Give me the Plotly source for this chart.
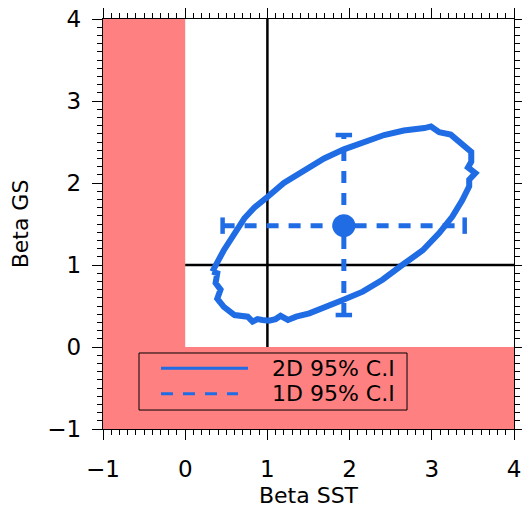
import plotly.graph_objects as go

# ---- data ----
ellipse_x = [0.33, 0.39, 0.37, 0.43, 0.39, 0.47, 0.60, 0.76, 0.82, 0.88, 0.94, 1.02, 1.10, 1.16, 1.25,
             1.35, 1.51, 1.75, 1.91, 2.16, 2.40, 2.64, 2.89, 3.09, 3.25, 3.37, 3.455, 3.455, 3.53, 3.44,
             3.48, 3.48, 3.35, 3.23, 3.09, 2.99, 2.91, 2.77, 2.66, 2.42, 2.18, 1.93, 1.69, 1.45, 1.20,
             1.00, 0.84, 0.72, 0.60, 0.47, 0.33]
ellipse_y = [0.92, 0.90, 0.78, 0.70, 0.59, 0.49, 0.39, 0.37, 0.31, 0.34, 0.33, 0.32, 0.34, 0.38, 0.33,
             0.37, 0.41, 0.50, 0.57, 0.675, 0.82, 1.00, 1.18, 1.39, 1.59, 1.79, 1.96, 2.04, 2.12, 2.19,
             2.26, 2.38, 2.48, 2.59, 2.62, 2.69, 2.67, 2.65, 2.64, 2.585, 2.50, 2.41, 2.30, 2.16, 2.00,
             1.83, 1.70, 1.57, 1.39, 1.18, 0.92]
center_x = 1.93
center_y = 1.48
ci_x = [0.455, 3.40]
ci_y = [0.39, 2.585]
cap_half = 0.1
ref_x = 1.0
ref_y = 1.0
x_range = [-1, 4]
y_range = [-1, 4]
tick_vals = [-1, 0, 1, 2, 3, 4]
legend_labels = ["2D 95% C.I", "1D 95% C.I"]

BLUE = "#1F6CE4"
RED = "#FF8080"
FONT = "DejaVu Sans"

fig = go.Figure()

# ellipse (2D CI)
fig.add_trace(go.Scatter(x=ellipse_x, y=ellipse_y, mode="lines",
                         line=dict(color=BLUE, width=6), showlegend=False,
                         name=legend_labels[0]))
# 1D CI dashed
fig.add_trace(go.Scatter(x=ci_x, y=[center_y, center_y], mode="lines",
                         line=dict(color=BLUE, width=5, dash="12px,10px"), showlegend=False,
                         name=legend_labels[1]))
fig.add_trace(go.Scatter(x=[center_x, center_x], y=ci_y, mode="lines",
                         line=dict(color=BLUE, width=5, dash="12px,10px"), showlegend=False))
# caps
for xv in ci_x:
    fig.add_trace(go.Scatter(x=[xv, xv], y=[center_y - cap_half, center_y + cap_half], mode="lines",
                             line=dict(color=BLUE, width=4.5), showlegend=False))
for yv in ci_y:
    fig.add_trace(go.Scatter(x=[center_x - cap_half, center_x + cap_half], y=[yv, yv], mode="lines",
                             line=dict(color=BLUE, width=4.5), showlegend=False))
# center point
fig.add_trace(go.Scatter(x=[center_x], y=[center_y], mode="markers",
                         marker=dict(color=BLUE, size=23), showlegend=False))

# red shaded regions (negative betas)
fig.add_shape(type="rect", xref="x", yref="y", x0=x_range[0], x1=0, y0=y_range[0], y1=y_range[1],
              fillcolor=RED, line_width=0, layer="below")
fig.add_shape(type="rect", xref="x", yref="y", x0=x_range[0], x1=x_range[1], y0=y_range[0], y1=0,
              fillcolor=RED, line_width=0, layer="below")
# reference lines at 1
fig.add_shape(type="line", xref="x", yref="y", x0=ref_x, x1=ref_x, y0=0, y1=y_range[1],
              line=dict(color="black", width=2.5), layer="below")
fig.add_shape(type="line", xref="x", yref="y", x0=0, x1=x_range[1], y0=ref_y, y1=ref_y,
              line=dict(color="black", width=2.5), layer="below")

# manual legend box
leg_rows = [0.1480, 0.0860]
fig.add_shape(type="rect", xref="paper", yref="paper", x0=0.0876, x1=0.7397, y0=0.0463, y1=0.1854,
              line=dict(color="black", width=1), fillcolor="rgba(0,0,0,0)")
fig.add_shape(type="line", xref="paper", yref="paper", x0=0.1411, x1=0.3528, y0=leg_rows[0], y1=leg_rows[0],
              line=dict(color=BLUE, width=3))
fig.add_shape(type="line", xref="paper", yref="paper", x0=0.1411, x1=0.3285, y0=leg_rows[1], y1=leg_rows[1],
              line=dict(color=BLUE, width=3, dash="12px,10px"))
for lab, yy in zip(legend_labels, leg_rows):
    fig.add_annotation(text=lab, xref="paper", yref="paper", x=0.7153, y=yy, xanchor="right",
                       yanchor="middle", showarrow=False, font=dict(family=FONT, size=22, color="black"))

axis_common = dict(
    tickvals=tick_vals, ticks="outside", ticklen=10, tickwidth=1.3, tickcolor="black",
    showline=True, linecolor="black", linewidth=1.3, mirror="ticks",
    showgrid=False, zeroline=False, automargin=False,
    minor=dict(dtick=0.1, ticks="outside", ticklen=5, tickwidth=1, tickcolor="black", showgrid=False),
    tickfont=dict(family=FONT, size=23, color="black"),
)

fig.update_layout(
    width=522, height=508,
    margin=dict(l=103, r=8, t=19, b=79),
    plot_bgcolor="white", paper_bgcolor="white",
    showlegend=False,
    xaxis=dict(range=x_range, title=dict(text="Beta SST", font=dict(family=FONT, size=22, color="black"),
                                         standoff=6),
               ticklabelstandoff=9, **axis_common),
    yaxis=dict(range=y_range, title=dict(text="Beta GS", font=dict(family=FONT, size=22, color="black"),
                                         standoff=12),
               ticklabelstandoff=6, **axis_common),
)

fig.write_html("out.html", config={"displayModeBar": False},
               post_script="document.body.style.margin='0';")
